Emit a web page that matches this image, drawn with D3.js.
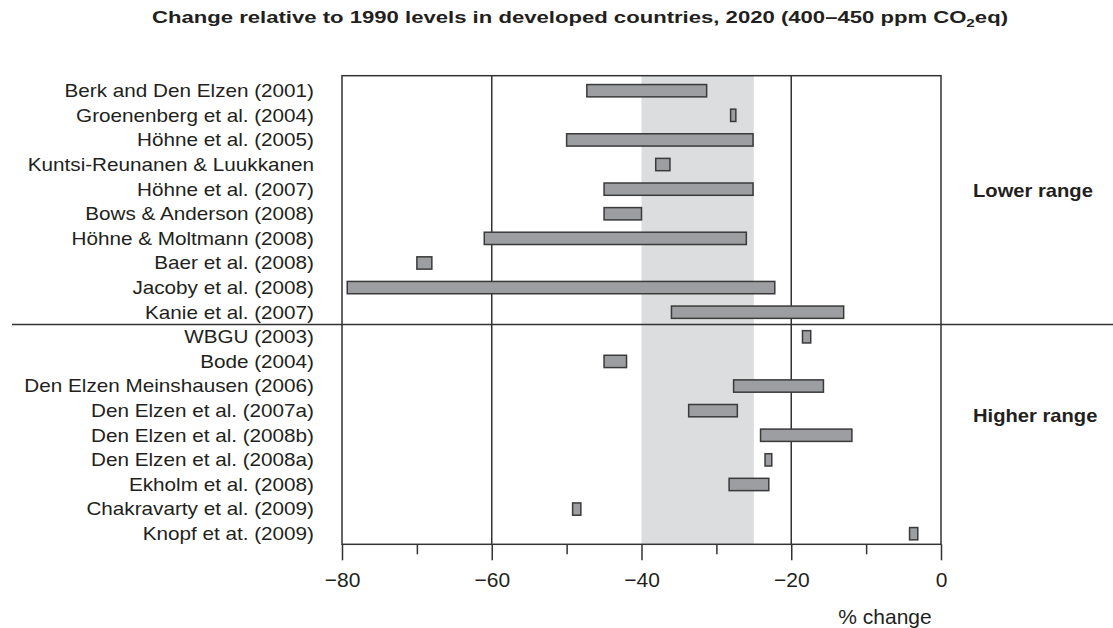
<!DOCTYPE html>
<html><head><meta charset="utf-8">
<script src="https://cdn.jsdelivr.net/npm/d3@7"></script>
<style>body{margin:0;background:#fff}</style>
</head><body><svg id="c" width="1113" height="628"></svg>
<script>
const studies = [
  "Berk and Den Elzen (2001)", "Groenenberg et al. (2004)", "Höhne et al. (2005)",
  "Kuntsi-Reunanen & Luukkanen", "Höhne et al. (2007)", "Bows & Anderson (2008)",
  "Höhne & Moltmann (2008)", "Baer et al. (2008)", "Jacoby et al. (2008)",
  "Kanie et al. (2007)", "WBGU (2003)", "Bode (2004)", "Den Elzen Meinshausen (2006)",
  "Den Elzen et al. (2007a)", "Den Elzen et al. (2008b)", "Den Elzen et al. (2008a)",
  "Ekholm et al. (2008)", "Chakravarty et al. (2009)", "Knopf et at. (2009)"
];
const lowValues  = [-47.3, -28.1, -50.0, -38.1, -45.0, -45.0, -61.0, -70.0, -79.3, -36.0,
                    -18.5, -45.0, -27.7, -33.7, -24.1, -23.5, -28.3, -49.2, -4.2];
const highValues = [-31.3, -27.4, -25.1, -36.2, -25.1, -40.0, -26.0, -68.0, -22.2, -13.0,
                    -17.4, -42.0, -15.7, -27.2, -11.9, -22.6, -23.0, -48.1, -3.1];
const groupLabels = ["Lower range", "Higher range"];
const groupAnchorStudy = [4, 13];
const lowerGroupCount = 10;
const xDomain = [-80, 0];
const xTicks = [-80, -60, -40, -20, 0];
const xMinorTicks = [-70, -50, -30, -10];
const gridValues = [-60, -20];
const shadedRange = [-40, -25];
const xAxisTitle = "% change";

(function () {
const svg = d3.select("#c");
const textColor = "#231f20";
const lineColor = "#333";

const x = d3.scaleLinear().domain(xDomain).range([342, 941]);
const y = d3.scaleBand().domain(studies).range([78.4, 546]).padding(0);
const bw = y.bandwidth();
const plotTop = 75.7, plotBottom = 544.3;

// title
const t = svg.append("text").attr("x", 580).attr("y", 23)
  .attr("text-anchor", "middle")
  .attr("font-family", "'Liberation Sans Narrow','Arial Narrow','Liberation Sans',Arial,sans-serif")
  .attr("font-weight", "bold").attr("font-size", 16).attr("fill", textColor);
t.append("tspan").text("Change relative to 1990 levels in developed countries, 2020 (400–450 ppm CO");
t.append("tspan").attr("dy", 4).attr("font-size", 11).text("2");
t.append("tspan").attr("dy", -4).text("eq)");
t.attr("textLength", 856).attr("lengthAdjust", "spacingAndGlyphs");

// shaded band
svg.append("rect").attr("x", x(shadedRange[0])).attr("y", plotTop)
  .attr("width", x(shadedRange[1]) - x(shadedRange[0])).attr("height", plotBottom - plotTop)
  .attr("fill", "#dcdddf");

// grid lines
svg.selectAll(".grid").data(gridValues).enter().append("line")
  .attr("x1", d => x(d)).attr("x2", d => x(d)).attr("y1", plotTop).attr("y2", plotBottom)
  .attr("stroke", lineColor).attr("stroke-width", 1.5);

// frame
svg.append("rect").attr("x", x(xDomain[0])).attr("y", plotTop)
  .attr("width", x(xDomain[1]) - x(xDomain[0])).attr("height", plotBottom - plotTop)
  .attr("fill", "none").attr("stroke", lineColor).attr("stroke-width", 1.5);

// separator
const sepY = (y(studies[lowerGroupCount - 1]) + y(studies[lowerGroupCount]) + bw) / 2;
svg.append("line").attr("x1", 12).attr("x2", 1113).attr("y1", sepY).attr("y2", sepY)
  .attr("stroke", lineColor).attr("stroke-width", 1.5);

// bars
svg.selectAll(".bar").data(studies).enter().append("rect")
  .attr("x", (d, i) => x(lowValues[i]))
  .attr("width", (d, i) => x(highValues[i]) - x(lowValues[i]))
  .attr("y", d => y(d) + bw * 0.25)
  .attr("height", bw * 0.5)
  .attr("fill", "#9c9ea1").attr("stroke", "#3a3a3a").attr("stroke-width", 1.5);

// labels
svg.selectAll(".lab").data(studies).enter().append("text")
  .attr("transform", d => `translate(314,${y(d) + bw / 2 + 6.4}) scale(1.15,1)`)
  .attr("text-anchor", "end")
  .attr("font-family", "'Liberation Sans',Arial,sans-serif")
  .attr("font-size", 18).attr("fill", textColor)
  .text(d => d);

// group labels
svg.selectAll(".grp").data(groupLabels).enter().append("text")
  .attr("transform", (d, i) => `translate(973,${y(studies[groupAnchorStudy[i]]) + bw / 2 + (i === 0 ? 8 : 11.5)}) scale(1.12,1)`)
  .attr("font-family", "'Liberation Sans',Arial,sans-serif")
  .attr("font-weight", "bold").attr("font-size", 18).attr("fill", textColor)
  .text(d => d);

// x axis
const axis = svg.append("g").attr("transform", `translate(0,${plotBottom})`)
  .call(d3.axisBottom(x).tickValues(xTicks).tickSize(16).tickPadding(12)
    .tickFormat(d => d < 0 ? "−" + Math.abs(d) : String(d)));
axis.select(".domain").remove();
axis.selectAll(".tick line").attr("stroke", lineColor).attr("stroke-width", 1.5);
axis.selectAll(".tick text")
  .attr("font-family", "'Liberation Sans Narrow','Arial Narrow','Liberation Sans',Arial,sans-serif")
  .attr("font-size", 21).attr("fill", textColor);

const minor = svg.append("g").attr("transform", `translate(0,${plotBottom})`)
  .call(d3.axisBottom(x).tickValues(xMinorTicks).tickSize(10).tickFormat(""));
minor.select(".domain").remove();
minor.selectAll(".tick line").attr("stroke", lineColor).attr("stroke-width", 1.5);

svg.append("text").attr("x", 885).attr("y", 624).attr("text-anchor", "middle")
  .attr("font-family", "'Liberation Sans Narrow','Arial Narrow','Liberation Sans',Arial,sans-serif")
  .attr("font-size", 21).attr("fill", textColor).text(xAxisTitle);
})();
</script></body></html>
